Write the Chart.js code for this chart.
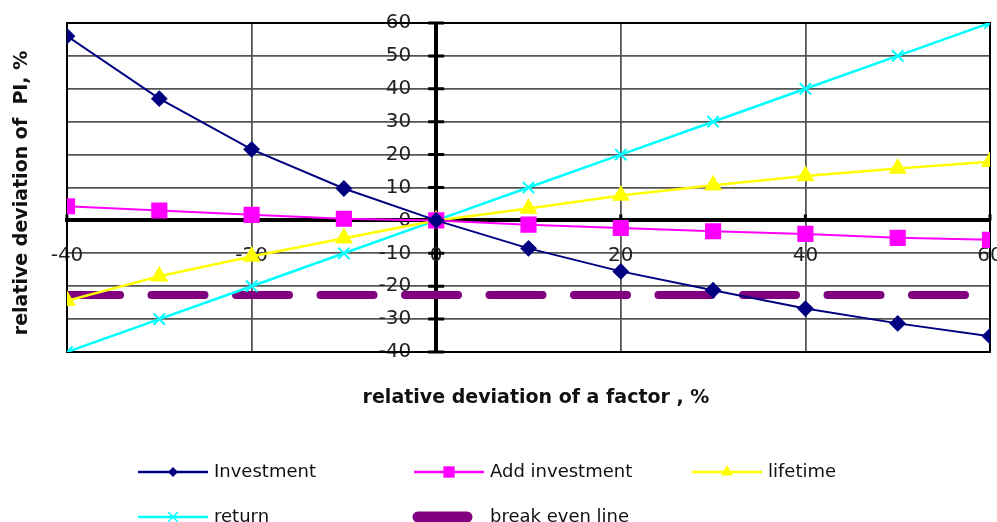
<!DOCTYPE html>
<html lang="en">
<head>
    <meta charset="UTF-8">
    <title>Sensitivity of PI</title>
    <script src="https://cdn.jsdelivr.net/npm/chart.js"></script>
    <style>
        html, body { margin: 0; padding: 0; background: #fff; overflow: hidden; }
    </style>
</head>
<body>
    <canvas id="myChart" width="997" height="545"></canvas>
    <script>
        // values
        const factorDeviation = [-40, -30, -20, -10, 0, 10, 20, 30, 40, 50, 60];
        const investment = [56, 37, 21.6, 9.7, 0, -8.5, -15.5, -21.2, -26.8, -31.3, -35.2];
        const addInvestment = [4.3, 3.0, 1.7, 0.5, 0, -1.3, -2.3, -3.3, -4.1, -5.3, -5.9];
        const lifetime = [-24.4, -17, -11, -5.4, 0, 3.6, 7.6, 10.7, 13.5, 15.8, 17.8];
        const returnDev = [-40, -30, -20, -10, 0, 10, 20, 30, 40, 50, 60];
        const breakEven = [-22.7, -22.7, -22.7, -22.7, -22.7, -22.7, -22.7, -22.7, -22.7, -22.7, -22.7];

        const xTitle = 'relative deviation of a factor , %';
        const yTitle = 'relative deviation of  PI, %';

        function points(values) {
            return factorDeviation.map((x, i) => ({ x: x, y: values[i] }));
        }

        function drawMarker(ctx, style, x, y, r, color) {
            ctx.save();
            ctx.fillStyle = color;
            ctx.strokeStyle = color;
            ctx.beginPath();
            if (style === 'rectRot') {
                ctx.moveTo(x - r, y);
                ctx.lineTo(x, y - r);
                ctx.lineTo(x + r, y);
                ctx.lineTo(x, y + r);
                ctx.closePath();
                ctx.fill();
            } else if (style === 'rect') {
                const s = r * Math.SQRT1_2;
                ctx.rect(x - s, y - s, 2 * s, 2 * s);
                ctx.fill();
            } else if (style === 'triangle') {
                ctx.moveTo(x, y - r);
                ctx.lineTo(x + r * 0.866, y + r / 2);
                ctx.lineTo(x - r * 0.866, y + r / 2);
                ctx.closePath();
                ctx.fill();
            } else if (style === 'crossRot') {
                const d = r * Math.SQRT1_2;
                ctx.lineWidth = 1.5;
                ctx.moveTo(x - d, y - d);
                ctx.lineTo(x + d, y + d);
                ctx.moveTo(x + d, y - d);
                ctx.lineTo(x - d, y + d);
                ctx.stroke();
            }
            ctx.restore();
        }

        // frame round the plot area and the tick marks on the zero axes
        const framePlugin = {
            id: 'frame',
            beforeDatasetsDraw(chart) {
                const a = chart.chartArea;
                const xs = chart.scales.x;
                const ys = chart.scales.y;
                const ctx = chart.ctx;
                ctx.save();
                ctx.strokeStyle = '#000';
                ctx.lineWidth = 2;
                ctx.strokeRect(a.left, a.top, a.right - a.left, a.bottom - a.top);

                const x0 = xs.getPixelForValue(0);
                const y0 = ys.getPixelForValue(0);
                ctx.lineWidth = 3;
                ctx.beginPath();
                ys.ticks.forEach(t => {
                    const py = ys.getPixelForValue(t.value);
                    ctx.moveTo(x0 - 8, py);
                    ctx.lineTo(x0 + 8, py);
                });
                xs.ticks.forEach(t => {
                    const px = xs.getPixelForValue(t.value);
                    ctx.moveTo(px, y0);
                    ctx.lineTo(px, y0 - 6);
                });
                ctx.stroke();
                ctx.restore();
            }
        };

        // axis titles and the legend below the chart
        const textPlugin = {
            id: 'texts',
            afterDraw(chart) {
                const ctx = chart.ctx;
                ctx.save();
                ctx.fillStyle = '#111';
                ctx.font = 'bold 19px "DejaVu Sans", sans-serif';
                ctx.textAlign = 'center';
                ctx.textBaseline = 'middle';
                ctx.fillText(xTitle, 536, 398);

                ctx.save();
                ctx.translate(22, 193);
                ctx.rotate(-Math.PI / 2);
                ctx.fillText(yTitle, 0, 0);
                ctx.restore();

                const cols = [138, 414, 692];
                const rows = [472, 517];
                ctx.font = '18px "DejaVu Sans", sans-serif';
                ctx.textAlign = 'left';
                chart.data.datasets.forEach((ds, i) => {
                    const x = cols[i % 3];
                    const y = rows[Math.floor(i / 3)];
                    ctx.save();
                    ctx.strokeStyle = ds.borderColor;
                    if (ds.borderDash) {
                        ctx.lineWidth = 11;
                        ctx.lineCap = 'round';
                        ctx.beginPath();
                        ctx.moveTo(x + 4, y);
                        ctx.lineTo(x + 53, y);
                        ctx.stroke();
                    } else {
                        ctx.lineWidth = 2.5;
                        ctx.beginPath();
                        ctx.moveTo(x, y);
                        ctx.lineTo(x + 70, y);
                        ctx.stroke();
                        drawMarker(ctx, ds.pointStyle, x + 35, y, ds.legendRadius, ds.borderColor);
                    }
                    ctx.restore();
                    ctx.fillText(ds.label, x + 76, y);
                });
                ctx.restore();
            }
        };

        const ctx = document.getElementById('myChart').getContext('2d');
        const myChart = new Chart(ctx, {
            type: 'line',
            data: {
                datasets: [{
                    label: 'Investment',
                    data: points(investment),
                    borderColor: '#000080',
                    backgroundColor: '#000080',
                    borderWidth: 2,
                    pointStyle: 'rectRot',
                    pointRadius: 7,
                    legendRadius: 5
                }, {
                    label: 'Add investment',
                    data: points(addInvestment),
                    borderColor: '#ff00ff',
                    backgroundColor: '#ff00ff',
                    borderWidth: 2,
                    pointStyle: 'rect',
                    pointRadius: 10,
                    legendRadius: 8
                }, {
                    label: 'lifetime',
                    data: points(lifetime),
                    borderColor: '#ffff00',
                    backgroundColor: '#ffff00',
                    borderWidth: 2.5,
                    pointStyle: 'triangle',
                    pointRadius: 8,
                    legendRadius: 7
                }, {
                    label: 'return',
                    data: points(returnDev),
                    borderColor: '#00ffff',
                    backgroundColor: '#00ffff',
                    borderWidth: 2.5,
                    pointStyle: 'crossRot',
                    pointRadius: 8,
                    pointBorderWidth: 2,
                    legendRadius: 7
                }, {
                    label: 'break even line',
                    data: points(breakEven),
                    borderColor: '#800080',
                    borderWidth: 8,
                    borderDash: [53, 31.5],
                    borderCapStyle: 'round',
                    pointRadius: 0
                }]
            },
            options: {
                responsive: false,
                animation: false,
                layout: { autoPadding: false, padding: { left: 67, top: 23, right: 7, bottom: 193 } },
                plugins: {
                    legend: { display: false },
                    tooltip: { enabled: false }
                },
                elements: { line: { tension: 0 } },
                scales: {
                    x: {
                        type: 'linear',
                        min: -40,
                        max: 60,
                        position: { y: 0 },
                        afterFit(scale) {
                            scale.height = 0;
                            scale.paddingLeft = 0;
                            scale.paddingRight = 0;
                        },
                        ticks: {
                            stepSize: 20,
                            padding: 23,
                            color: '#222',
                            font: { family: 'DejaVu Sans', size: 20 }
                        },
                        grid: {
                            color: c => (c.tick && c.tick.value === 0) ? '#000' : '#555',
                            lineWidth: c => (c.tick && c.tick.value === 0) ? 4 : 1.8,
                            drawTicks: false
                        },
                        border: { color: '#000', width: 4 }
                    },
                    y: {
                        type: 'linear',
                        min: -40,
                        max: 60,
                        position: { x: -2.7 },
                        afterFit(scale) {
                            scale.width = 0;
                            scale.paddingTop = 0;
                            scale.paddingBottom = 0;
                        },
                        ticks: {
                            stepSize: 10,
                            color: '#222',
                            font: { family: 'DejaVu Sans', size: 20 }
                        },
                        grid: { color: '#555', lineWidth: 1.8, drawTicks: false },
                        border: { display: false }
                    }
                }
            },
            plugins: [framePlugin, textPlugin]
        });
    </script>
</body>
</html>
